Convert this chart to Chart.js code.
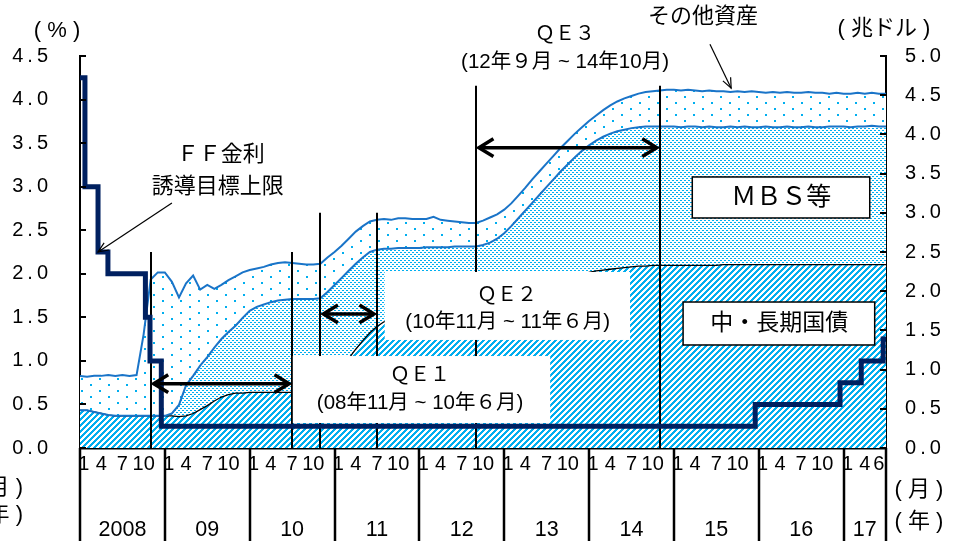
<!DOCTYPE html>
<html>
<head>
<meta charset="utf-8">
<script src="https://cdn.jsdelivr.net/npm/chart.js@4.4.0/dist/chart.umd.min.js"></script>
<style>
  body { margin: 0; background: #fff; }
</style>
</head>
<body>
<canvas id="chart" width="977" height="541"></canvas>
<script>
// x = months counted from Jan 2008 (0) to Jul 2017 (114)
const years = ['2008', '09', '10', '11', '12', '13', '14', '15', '16', '17'];
const monthLabels = [1, 4, 7, 10];
const lastYearMonths = [1, 4, 6];

// Fed assets, trillion $ (cumulative levels)
const treasury = [
  0.48,0.48,0.46,0.44,0.42,0.41,0.41,0.41,0.41,0.41,0.41,0.41,
  0.41,0.41,0.40,0.41,0.44,0.49,0.54,0.60,0.65,0.68,0.70,0.70,
  0.71,0.71,0.71,0.71,0.71,0.71,0.71,0.71,0.71,0.71,0.73,0.80,
  0.90,1.02,1.14,1.26,1.37,1.47,1.55,1.61,1.64,1.65,1.65,1.66,
  1.66,1.66,1.66,1.66,1.66,1.66,1.66,1.66,1.66,1.66,1.66,1.66,
  1.68,1.72,1.77,1.83,1.89,1.95,2.01,2.06,2.10,2.14,2.18,2.21,
  2.24,2.26,2.27,2.28,2.29,2.30,2.31,2.32,2.32,2.33,2.33,2.33,
  2.33,2.33,2.33,2.33,2.33,2.33,2.33,2.34,2.34,2.34,2.34,2.34,
  2.34,2.34,2.34,2.34,2.34,2.34,2.34,2.34,2.34,2.34,2.34,2.34,
  2.34,2.34,2.34,2.34,2.34,2.34,2.34
];
const mbsTop = [
  0.48,0.48,0.46,0.44,0.42,0.41,0.41,0.41,0.41,0.41,0.41,0.41,
  0.41,0.44,0.55,0.80,0.92,1.05,1.16,1.28,1.39,1.48,1.56,1.66,
  1.75,1.80,1.83,1.86,1.88,1.89,1.90,1.90,1.90,1.90,1.91,1.99,
  2.08,2.17,2.26,2.35,2.43,2.50,2.53,2.54,2.54,2.55,2.55,2.55,
  2.55,2.56,2.56,2.56,2.56,2.57,2.57,2.57,2.57,2.59,2.62,2.67,
  2.74,2.83,2.93,3.03,3.13,3.23,3.33,3.43,3.53,3.62,3.71,3.79,
  3.86,3.92,3.97,4.01,4.04,4.06,4.08,4.09,4.10,4.10,4.10,4.10,
  4.10,4.09,4.10,4.10,4.09,4.10,4.09,4.09,4.10,4.09,4.10,4.09,
  4.09,4.10,4.09,4.09,4.10,4.09,4.09,4.10,4.09,4.09,4.10,4.10,
  4.10,4.09,4.10,4.10,4.11,4.10,4.10
];
const totalAssets = [
  0.92,0.91,0.92,0.92,0.93,0.92,0.93,0.92,0.93,1.45,2.15,2.24,
  2.24,2.12,1.92,2.10,2.20,2.02,2.08,2.03,2.08,2.14,2.19,2.24,
  2.27,2.29,2.31,2.34,2.36,2.37,2.36,2.35,2.34,2.34,2.35,2.43,
  2.50,2.58,2.67,2.76,2.83,2.89,2.91,2.92,2.91,2.93,2.93,2.92,
  2.92,2.92,2.95,2.91,2.90,2.89,2.88,2.87,2.87,2.90,2.94,2.98,
  3.04,3.12,3.22,3.32,3.43,3.53,3.63,3.73,3.83,3.92,4.01,4.09,
  4.17,4.24,4.31,4.37,4.42,4.46,4.49,4.52,4.54,4.55,4.56,4.57,
  4.57,4.56,4.57,4.56,4.55,4.56,4.55,4.55,4.54,4.55,4.54,4.55,
  4.54,4.53,4.54,4.53,4.54,4.53,4.53,4.54,4.53,4.53,4.52,4.53,
  4.52,4.52,4.53,4.52,4.53,4.52,4.52
];

// FF rate target upper limit (%), changes at these months
const ffDates = [0, 0.7, 2.55, 3.95, 9.25, 9.9, 11.5, 95.5, 107.5, 110.5, 113.6, 114];
const ffRate  = [4.25, 3.0, 2.25, 2.0, 1.5, 1.0, 0.25, 0.5, 0.75, 1.0, 1.25, 1.25];

// QE periods: [start month, end month, arrow level, line top] (right axis)
const qePeriods = [
  [10, 30, 0.82, 2.5],
  [34, 42, 1.71, 3.0],
  [56, 82, 3.83, 4.62]
];

const JP = '"Liberation Sans", "Noto Sans CJK JP", sans-serif';
const BLUE = '#00AEEF';
const LINE = '#1a74c8';

function makePattern(w, h, paint) {
  const c = document.createElement('canvas');
  c.width = w; c.height = h;
  const g = c.getContext('2d');
  g.fillStyle = '#fff';
  g.fillRect(0, 0, w, h);
  g.fillStyle = BLUE;
  paint(g);
  return g.createPattern(c, 'repeat');
}
const hatch = makePattern(6, 6, g => {
  for (let y = 0; y < 6; y++)
    for (let x = 0; x < 6; x++)
      if ((x + y) % 6 < 3) g.fillRect(x, y, 1, 1);
});
const denseDots = makePattern(4, 4, g => {
  g.fillRect(0, 0, 2, 1);
  g.fillRect(2, 2, 2, 1);
});
const sparseDots = makePattern(18, 12, g => {
  g.fillRect(0, 0, 2, 2);
  g.fillRect(9, 6, 2, 2);
});

const pts = arr => arr.map((v, i) => ({x: i, y: v}));

function arrowHead(ctx, x, y, ang, len, spread) {
  ctx.beginPath();
  ctx.moveTo(x + len * Math.cos(ang + spread), y + len * Math.sin(ang + spread));
  ctx.lineTo(x, y);
  ctx.lineTo(x + len * Math.cos(ang - spread), y + len * Math.sin(ang - spread));
  ctx.stroke();
}

function text(ctx, s, x, y, size, align) {
  ctx.font = size + 'px ' + JP;
  ctx.textAlign = align || 'center';
  ctx.textBaseline = 'middle';
  ctx.fillText(s, x, y);
}

const overlay = {
  id: 'overlay',
  afterDatasetDraw(chart, args) {
    if (args.index !== 2) return;
    const {ctx, scales: {x, y2}} = chart;
    const X = v => x.getPixelForValue(v), Y = v => y2.getPixelForValue(v);
    ctx.save();
    ctx.strokeStyle = '#000';
    ctx.lineWidth = 2;
    qePeriods.forEach(q => {
      [q[0], q[1]].forEach(t => {
        const px = Math.round(X(t));
        ctx.beginPath();
        ctx.moveTo(px, Y(q[3]));
        ctx.lineTo(px, y2.bottom);
        ctx.stroke();
      });
    });
    // white label boxes
    ctx.fillStyle = '#fff';
    ctx.fillRect(X(30.1), Y(1.173), X(66.5) - X(30.1), Y(0.319) - Y(1.173));
    ctx.fillRect(X(43.1), Y(2.245), X(77.8) - X(43.1), Y(1.378) - Y(2.245));
    ctx.lineWidth = 1.5;
    [[86.6, 3.457, 111.7, 2.934], [85.3, 1.862, 112.4, 1.314]].forEach(b => {
      ctx.fillRect(X(b[0]), Y(b[1]), X(b[2]) - X(b[0]), Y(b[3]) - Y(b[1]));
      ctx.strokeRect(X(b[0]), Y(b[1]), X(b[2]) - X(b[0]), Y(b[3]) - Y(b[1]));
    });
    ctx.restore();
  },
  afterDatasetsDraw(chart) {
    const {ctx, scales: {x, y, y2}} = chart;
    const X = v => x.getPixelForValue(v), Y = v => y2.getPixelForValue(v);
    ctx.save();
    ctx.strokeStyle = '#000';
    ctx.fillStyle = '#000';
    // QE arrows
    ctx.lineWidth = 3.5;
    ctx.lineJoin = 'miter';
    qePeriods.forEach(q => {
      const a = X(q[0]) + 3, b = X(q[1]) - 3, py = Y(q[2]);
      ctx.beginPath(); ctx.moveTo(a, py); ctx.lineTo(b, py); ctx.stroke();
      arrowHead(ctx, a, py, 0, 17, 0.55);
      arrowHead(ctx, b, py, Math.PI, 17, 0.55);
    });
    // thin pointer arrows
    ctx.lineWidth = 1.2;
    const ax1 = X(13.0), ay1 = Y(3.125), ax2 = X(2.55), ay2 = y.getPixelForValue(2.25);
    ctx.beginPath(); ctx.moveTo(ax1, ay1); ctx.lineTo(ax2, ay2); ctx.stroke();
    arrowHead(ctx, ax2, ay2, Math.atan2(ay1 - ay2, ax1 - ax2), 11, 0.4);
    const bx1 = X(89.1), by1 = Y(5.15), bx2 = X(92.1), by2 = Y(4.59);
    ctx.beginPath(); ctx.moveTo(bx1, by1); ctx.lineTo(bx2, by2); ctx.stroke();
    arrowHead(ctx, bx2, by2, Math.atan2(by1 - by2, bx1 - bx2), 11, 0.4);
    // labels
    text(ctx, 'ＱＥ１', X(48.1), Y(0.93), 20);
    text(ctx, '(08年11月 ~ 10年６月)', X(48.1), Y(0.574), 20.5);
    text(ctx, 'ＱＥ２', X(60.4), Y(1.95), 20);
    text(ctx, '(10年11月 ~ 11年６月)', X(60.5), Y(1.607), 20.5);
    text(ctx, 'ＱＥ３', X(68.6), Y(5.27), 20);
    text(ctx, '(12年９月 ~ 14年10月)', X(68.6), Y(4.92), 20.5);
    text(ctx, 'ＭＢＳ等', X(99.2), Y(3.19), 25);
    text(ctx, '中・長期国債', X(98.9), Y(1.582), 23);
    text(ctx, 'ＦＦ金利', X(19.9), Y(3.737), 22);
    text(ctx, '誘導目標上限', X(19.5), Y(3.33), 22);
    text(ctx, 'その他資産', X(88.1), Y(5.5), 22);
    ctx.restore();
  },
  afterDraw(chart) {
    const {ctx, chartArea: ca, scales: {x, y, y2}} = chart;
    ctx.save();
    ctx.strokeStyle = '#000';
    // inward tick marks
    ctx.lineWidth = 2;
    y.ticks.forEach(t => {
      const py = Math.round(y.getPixelForValue(t.value));
      ctx.beginPath(); ctx.moveTo(ca.left, py); ctx.lineTo(ca.left + 6, py); ctx.stroke();
    });
    y2.ticks.forEach(t => {
      const py = Math.round(y2.getPixelForValue(t.value));
      ctx.beginPath(); ctx.moveTo(ca.right, py); ctx.lineTo(ca.right - 6, py); ctx.stroke();
    });
    // year separators and labels
    ctx.lineWidth = 2.5;
    ctx.fillStyle = '#000';
    for (let k = 0; k <= years.length; k++) {
      const px = Math.round(x.getPixelForValue(Math.min(k * 12, x.max)));
      ctx.beginPath(); ctx.moveTo(px, ca.bottom); ctx.lineTo(px, chart.height); ctx.stroke();
    }
    years.forEach((yr, k) => {
      const mid = (k * 12 + Math.min(k * 12 + 12, x.max)) / 2;
      text(ctx, yr, x.getPixelForValue(mid), 530, 21.5);
    });
    // unit labels
    text(ctx, '( % )', 57, 31, 22);
    text(ctx, '( 兆ドル )', 884, 29, 22);
    text(ctx, '( 月 )', 919, 490, 22);
    text(ctx, '( 年 )', 919, 522, 22);
    text(ctx, '( 月 )', 23, 488, 22, 'right');
    text(ctx, '( 年 )', 23, 515, 22, 'right');
    ctx.restore();
  }
};

const spaced = v => v.toFixed(1).split('').join('\u2009');
const tickFont = {family: '"Liberation Sans", sans-serif', size: 20};

new Chart(document.getElementById('chart'), {
  data: {
    datasets: [
      {
        type: 'line', label: '中・長期国債', data: pts(treasury), yAxisID: 'y2',
        borderColor: '#000', borderWidth: 1.3, backgroundColor: hatch,
        fill: 'origin', pointRadius: 0, order: 3
      },
      {
        type: 'line', label: 'MBS等', data: pts(mbsTop), yAxisID: 'y2',
        borderColor: LINE, borderWidth: 2, backgroundColor: denseDots,
        fill: '-1', pointRadius: 0, order: 2
      },
      {
        type: 'line', label: 'その他資産', data: pts(totalAssets), yAxisID: 'y2',
        borderColor: LINE, borderWidth: 2, backgroundColor: sparseDots,
        fill: '-1', pointRadius: 0, order: 1
      },
      {
        type: 'line', label: 'FF金利誘導目標上限',
        data: ffDates.map((d, i) => ({x: d, y: ffRate[i]})), yAxisID: 'y',
        borderColor: '#002060', borderWidth: 5, stepped: true,
        fill: false, pointRadius: 0, order: 0
      }
    ]
  },
  options: {
    responsive: false,
    animation: false,
    layout: {padding: {top: 56}},
    plugins: {
      legend: {display: false},
      tooltip: {enabled: false},
      filler: {drawTime: 'beforeDatasetsDraw'}
    },
    scales: {
      x: {
        type: 'linear', min: 0, max: 114, z: 1,
        grid: {display: false, drawTicks: false},
        border: {display: true, color: '#000', width: 2.5},
        afterBuildTicks: s => {
          s.ticks = [];
          years.forEach((yr, k) => {
            const ms = k === years.length - 1 ? lastYearMonths : monthLabels;
            ms.forEach(m => s.ticks.push({value: k * 12 + (m === 1 ? 0.55 : m - 1)}));
          });
        },
        afterFit: s => { s.height = 93; },
        ticks: {
          autoSkip: false, maxRotation: 0, padding: 4, color: '#000', font: tickFont,
          callback: v => String(Math.floor(v % 12) + 1)
        }
      },
      y: {
        position: 'left', min: 0, max: 4.5, z: 1,
        grid: {display: false, drawTicks: false},
        border: {display: true, color: '#000', width: 2},
        afterFit: s => { s.width = 80; },
        ticks: {stepSize: 0.5, padding: 32, color: '#000', font: tickFont, callback: spaced}
      },
      y2: {
        position: 'right', min: 0, max: 5, z: 1,
        grid: {display: false, drawTicks: false},
        border: {display: true, color: '#000', width: 2},
        afterFit: s => { s.width = 91; },
        ticks: {stepSize: 0.5, padding: 19, color: '#000', font: tickFont, callback: spaced}
      }
    }
  },
  plugins: [overlay]
});
</script>
</body>
</html>
